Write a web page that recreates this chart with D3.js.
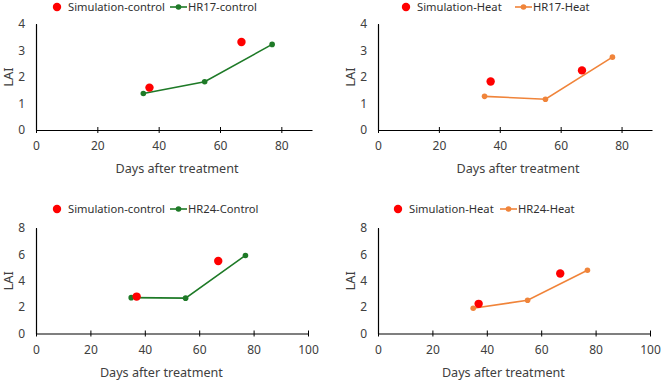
<!DOCTYPE html>
<html>
<head>
<meta charset="utf-8">
<script src="https://cdn.jsdelivr.net/npm/d3@7"></script>
<style>
  body { margin: 0; background: #fff; }
  svg text { font-family: "Noto Sans", "Open Sans", sans-serif; }
</style>
</head>
<body>
<svg id="chart" width="661" height="380"></svg>
<script>
// simulated LAI (days, value)
simDays = [37, 67];
sim17Control = [1.6, 3.32];
sim17Heat = [1.83, 2.25];
sim24Control = [2.8, 5.5];
sim24Heat = [2.25, 4.55];

// measured LAI
obsDays = [35, 55, 77];
hr17Control = [1.38, 1.82, 3.23];
hr17Heat = [1.27, 1.16, 2.75];
hr24Control = [2.72, 2.68, 5.92];
hr24Heat = [1.92, 2.52, 4.8];

xTicks17 = [0, 20, 40, 60, 80];
xTicks24 = [0, 20, 40, 60, 80, 100];
yTicks17 = [0, 1, 2, 3, 4];
yTicks24 = [0, 2, 4, 6, 8];

const GREEN = "#1e7a27", ORANGE = "#f0843a", RED = "#ff0000";

const panels = [
  {ox: 0,   oy: 0,   x0: 36,  x1: 312, xmax: 90,  xt: xTicks17, ymax: 4, yt: yTicks17, yb: 130, yt0: 24,
   sim: sim17Control, obs: hr17Control, col: GREEN, simLab: "Simulation-control", obsLab: "HR17-control",
   legY: 7, legDot: 57, legLine: 170},
  {ox: 330, oy: 0,   x0: 48,  x1: 322, xmax: 90,  xt: xTicks17, ymax: 4, yt: yTicks17, yb: 130, yt0: 24,
   sim: sim17Heat, obs: hr17Heat, col: ORANGE, simLab: "Simulation-Heat", obsLab: "HR17-Heat",
   legY: 7, legDot: 76, legLine: 185},
  {ox: 0,   oy: 190, x0: 36,  x1: 308, xmax: 100, xt: xTicks24, ymax: 8, yt: yTicks24, yb: 143.5, yt0: 38,
   sim: sim24Control, obs: hr24Control, col: GREEN, simLab: "Simulation-control", obsLab: "HR24-Control",
   legY: 19, legDot: 57, legLine: 170},
  {ox: 330, oy: 190, x0: 48,  x1: 320, xmax: 100, xt: xTicks24, ymax: 8, yt: yTicks24, yb: 143.5, yt0: 38,
   sim: sim24Heat, obs: hr24Heat, col: ORANGE, simLab: "Simulation-Heat", obsLab: "HR24-Heat",
   legY: 19, legDot: 68, legLine: 170}
];

const svg = d3.select("#chart");

panels.forEach(function(p){
  let g = svg.append("g").attr("transform", "translate(" + p.ox + "," + p.oy + ")");

  let x = d3.scaleLinear().domain([0, p.xmax]).range([p.x0, p.x1]);
  let y = d3.scaleLinear().domain([0, p.ymax]).range([p.yb, p.yt0]);

  // x axis
  let xa = g.append("g").attr("transform", "translate(0," + p.yb + ")")
    .call(d3.axisBottom(x).tickValues(p.xt).tickFormat(d3.format("d"))
      .tickSize(3).tickSizeOuter(0).tickPadding(6));
  xa.selectAll(".tick line").attr("y1", -3);
  // y axis
  let ya = g.append("g").attr("transform", "translate(" + p.x0 + ",0)")
    .call(d3.axisLeft(y).tickValues(p.yt).tickFormat(d3.format("d"))
      .tickSize(3).tickSizeOuter(0).tickPadding(8));
  ya.selectAll(".tick line").attr("x2", 1);

  [xa, ya].forEach(function(a){
    a.select(".domain").attr("stroke", "#000").attr("stroke-width", 1.2);
    a.selectAll(".tick line").attr("stroke", "#000");
    a.selectAll(".tick text").attr("fill", "#404040").style("font-size", "12px");
  });
  xa.selectAll(".tick text").attr("dy", "0.95em");

  // axis titles
  g.append("text")
    .attr("x", (p.x0 + x(90)) / 2 + 3).attr("y", p.yb + 43)
    .attr("text-anchor", "middle").attr("fill", "#404040").style("font-size", "12.6px")
    .text("Days after treatment");
  g.append("text")
    .attr("transform", "translate(" + (p.x0 - 23) + "," + ((p.yb + p.yt0) / 2) + ") rotate(-90)")
    .attr("text-anchor", "middle").attr("fill", "#404040").style("font-size", "13px")
    .text("LAI");

  // measured series
  let obsPts = obsDays.map(function(d, i){ return [d, p.obs[i]]; });
  g.append("path").datum(obsPts)
    .attr("fill", "none").attr("stroke", p.col).attr("stroke-width", 1.6)
    .attr("d", d3.line().x(d => x(d[0])).y(d => y(d[1])));
  g.selectAll(".obs").data(obsPts).enter().append("circle")
    .attr("cx", d => x(d[0])).attr("cy", d => y(d[1])).attr("r", 2.8).attr("fill", p.col);

  // simulated points
  let simPts = simDays.map(function(d, i){ return [d, p.sim[i]]; });
  g.selectAll(".sim").data(simPts).enter().append("circle")
    .attr("cx", d => x(d[0])).attr("cy", d => y(d[1])).attr("r", 4.2).attr("fill", RED);

  // legend
  let lg = g.append("g").attr("transform", "translate(0," + p.legY + ")");
  lg.append("circle").attr("cx", p.legDot).attr("cy", 0).attr("r", 4.2).attr("fill", RED);
  lg.append("text").attr("x", p.legDot + 11).attr("y", 0).attr("dy", "0.35em")
    .attr("fill", "#303030").style("font-size", "11.2px").text(p.simLab);
  lg.append("line").attr("x1", p.legLine).attr("x2", p.legLine + 17).attr("y1", 0).attr("y2", 0)
    .attr("stroke", p.col).attr("stroke-width", 1.6);
  lg.append("circle").attr("cx", p.legLine + 8.5).attr("cy", 0).attr("r", 2.8).attr("fill", p.col);
  lg.append("text").attr("x", p.legLine + 18).attr("y", 0).attr("dy", "0.35em")
    .attr("fill", "#303030").style("font-size", "11.2px").text(p.obsLab);
});
</script>
</body>
</html>
